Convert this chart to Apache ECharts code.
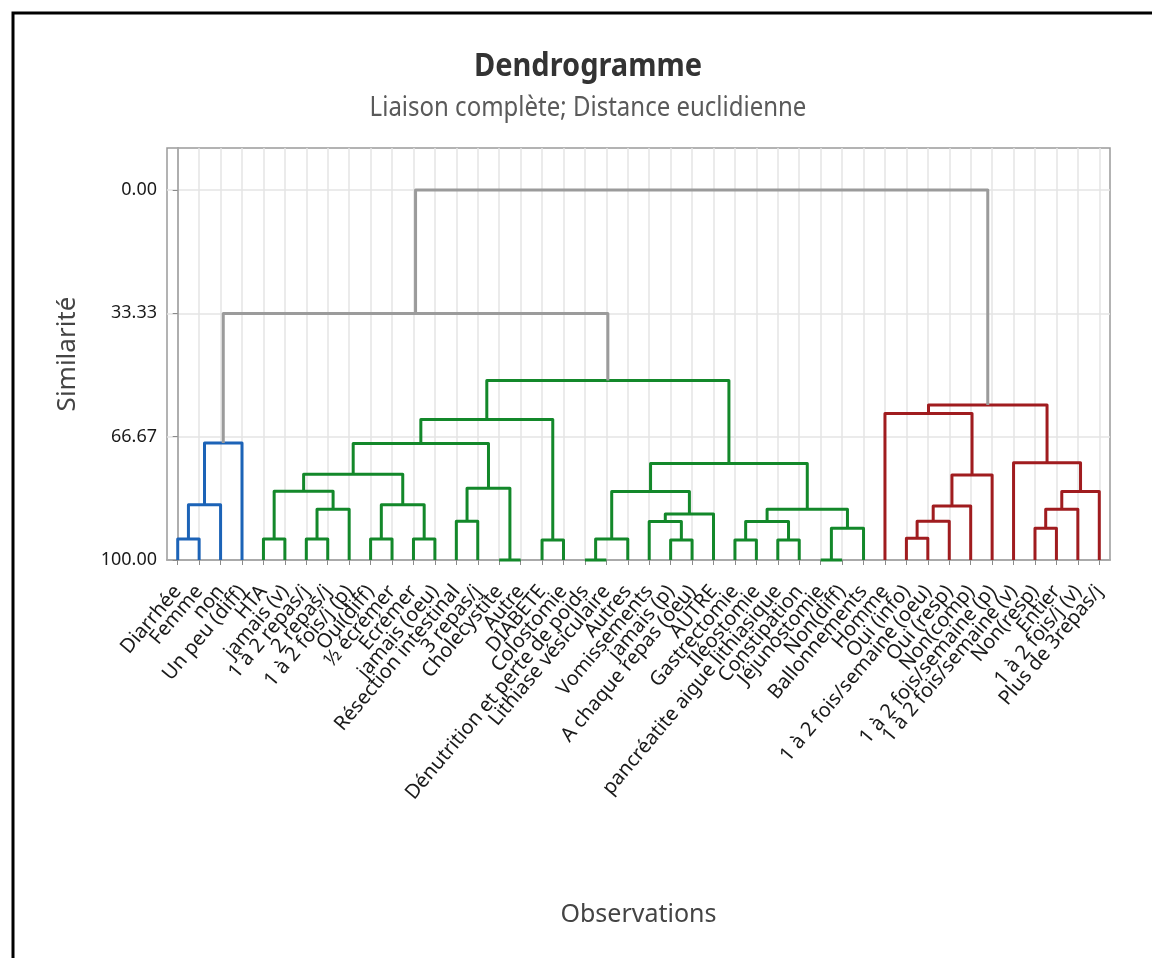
<!DOCTYPE html>
<html>
<head>
<meta charset="utf-8">
<script src="https://cdn.jsdelivr.net/npm/echarts@6/dist/echarts.min.js"></script>
<style>
html, body { margin: 0; padding: 0; background: #ffffff; }
#chart { width: 1152px; height: 958px; }
</style>
</head>
<body>
<div id="chart"></div>
<script>
// Observations, in dendrogram leaf order (left to right)
const leafLabels = [
  'Diarrhée', 'Femme', 'non', 'Un peu (diff)', 'HTA', 'jamais (v)',
  '1 à 2 repas/j', '2 repas/j', '1 à 2 fois/j (p)', 'Oui(diff)',
  '½ écrémer', 'Ecrémer', 'jamais (oeu)', 'Résection intestinal', '3 repas/j',
  'Cholecystite', 'Autre', 'DIABETE', 'Colostomie', 'Dénutrition et perte de poids',
  'Lithiase vésiculaire', 'Autres', 'Vomissements', 'jamais (p)', 'A chaque repas (oeu)',
  'AUTRE', 'Gastrectomie', 'Iléostomie', 'pancréatite aigue lithiasique', 'Constipation',
  'Jéjunostomie', 'Non(diff)', 'Ballonnements', 'Homme', 'Oui (info)',
  '1 à 2 fois/semaine (oeu)', 'Oui (resp)', 'Non(comp)', '1 à 2 fois/semaine (p)',
  '1 à 2 fois/semaine (v)', 'Non(resp)', 'Entier', '1 à 2 fois/j (v)', 'Plus de 3repas/j'
];

// Agglomeration steps: [child A, child B, similarity level].
// Children < 44 are leaves; child 44 + k is the cluster formed at step k.
const mergeA = [0, 44, 45, 4, 6, 48, 47, 9, 11, 51, 50, 13, 15, 55, 54, 17, 58,
  19, 61, 23, 22, 64, 62, 26, 28, 67, 30, 70, 69, 66, 60,
  34, 75, 76, 77, 33, 40, 80, 81, 39, 79, 46, 85];
const mergeB = [1, 2, 3, 5, 7, 8, 49, 10, 12, 52, 53, 14, 16, 56, 57, 18, 59,
  20, 21, 24, 63, 25, 65, 27, 29, 68, 31, 32, 71, 72, 73,
  35, 36, 37, 38, 78, 41, 42, 43, 82, 83, 74, 84];
const mergeSimilarity = [94.3, 85.1, 68.4, 94.3, 94.3, 86.3, 81.4, 94.3, 94.3, 85.1, 76.8,
  89.5, 100, 80.6, 68.5, 94.6, 62.0,
  100, 94.3, 94.6, 89.6, 87.6, 81.5, 94.6, 94.6, 89.6, 100, 91.4, 86.3, 73.9, 51.5,
  94.1, 89.5, 85.4, 77.0, 60.4, 91.4, 86.3, 81.5, 73.7, 58.1, 33.4, 0];

// Final clusters (consecutive leaves) and their colours
const clusterSizes = [4, 29, 11];
const clusterColors = ['#1c63b7', '#13882a', '#a01c1f'];
const linkGray = '#9b9b9b';
const colourCut = 45;

const simTicks = [0, 100 / 3, 200 / 3, 100];

// --- tree geometry in data space (x = leaf index, y = similarity) ---
const nLeaves = leafLabels.length;
const nodeX = leafLabels.map((_, i) => i);
const nodeY = leafLabels.map(() => 100);
const nodeCluster = [];
clusterSizes.forEach((size, c) => { for (let i = 0; i < size; i++) nodeCluster.push(c); });
const linkColor = [];
mergeA.forEach((a, k) => {
  const b = mergeB[k];
  nodeX.push((nodeX[a] + nodeX[b]) / 2);
  nodeY.push(mergeSimilarity[k]);
  const c = nodeCluster[a] === nodeCluster[b] ? nodeCluster[a] : -1;
  nodeCluster.push(c);
  linkColor.push(c >= 0 && mergeSimilarity[k] >= colourCut ? clusterColors[c] : linkGray);
});

const linkData = mergeA.map((a, k) => [nodeX[nLeaves + k], mergeSimilarity[k]]);

function renderLink(params, api) {
  const k = params.dataIndex;
  const a = mergeA[k], b = mergeB[k], s = mergeSimilarity[k];
  const pts = [
    [nodeX[a], nodeY[a]], [nodeX[a], s], [nodeX[b], s], [nodeX[b], nodeY[b]]
  ].map(p => api.coord(p));
  return {
    type: 'polyline',
    shape: { points: pts },
    style: { stroke: linkColor[k], lineWidth: 3, fill: null, lineJoin: 'round', lineCap: 'butt' }
  };
}

const leafIdx = leafLabels.map((_, i) => i);
const FONT = '"Noto Sans", "Open Sans", sans-serif';

// Leaf names are dense and overlap; they are split across two stacked x axes
// (even / odd leaves) so the axis never drops a label for overlapping.
const leafLabelStyle = {
  rotate: 50, margin: 28,
  fontSize: 20, color: '#1a1a1a', fontFamily: FONT,
  showMinLabel: true, showMaxLabel: true, hideOverlap: false,
  formatter: v => leafLabels[Math.round(v)]
};

const chart = echarts.init(document.getElementById('chart'), null, { renderer: 'canvas' });
chart.setOption({
  backgroundColor: '#ffffff',
  animation: false,
  textStyle: { fontFamily: FONT },
  graphic: [
    {
      type: 'rect', silent: true, z: 100,
      shape: { x: 13, y: 13, width: 1300, height: 1100 },
      style: { fill: null, stroke: '#000000', lineWidth: 3 }
    },
    {
      type: 'text', x: 588, y: 67, z: 100, scaleY: 1.12,
      style: { text: 'Dendrogramme', font: 'bold 29px ' + FONT, fill: '#333333', align: 'center', verticalAlign: 'middle' }
    },
    {
      type: 'text', x: 588, y: 108, z: 100, scaleY: 1.12,
      style: { text: 'Liaison complète; Distance euclidienne', font: '24px ' + FONT, fill: '#5a5a5a', align: 'center', verticalAlign: 'middle' }
    }
  ],
  grid: {
    left: 167, right: 42, top: 148, bottom: 398,
    show: true, borderColor: '#9a9a9a', borderWidth: 1.5, backgroundColor: '#ffffff'
  },
  xAxis: [
    {
      type: 'value',
      min: -0.5, max: nLeaves - 0.5,
      name: 'Observations',
      nameLocation: 'middle',
      nameGap: 342,
      nameTextStyle: { fontSize: 25, color: '#444444', fontFamily: FONT },
      axisLine: { show: true, onZero: false, lineStyle: { color: '#9a9a9a', width: 1.5 } },
      axisTick: { show: true, length: 5, customValues: leafIdx, lineStyle: { color: '#8a8a8a' } },
      axisLabel: Object.assign({ customValues: leafIdx.filter(i => i % 2 === 0) }, leafLabelStyle),
      splitLine: { show: true, lineStyle: { color: '#e4e4e4', width: 1.5 } }
    },
    {
      type: 'value',
      position: 'bottom',
      min: -0.5, max: nLeaves - 0.5,
      axisLine: { show: false, onZero: false },
      axisTick: { show: false, customValues: leafIdx.filter(i => i % 2 === 1) },
      axisLabel: Object.assign({ customValues: leafIdx.filter(i => i % 2 === 1) }, leafLabelStyle),
      splitLine: { show: false }
    }
  ],
  yAxis: {
    type: 'value',
    inverse: true,
    min: -11.35, max: 100,
    name: 'Similarité',
    nameLocation: 'middle',
    nameGap: 86,
    nameRotate: 90,
    nameTextStyle: { fontSize: 26, color: '#444444', fontFamily: FONT },
    axisLine: { show: true, lineStyle: { color: '#9a9a9a', width: 1.5 } },
    axisTick: { show: true, length: 5, customValues: simTicks, lineStyle: { color: '#8a8a8a' } },
    axisLabel: {
      customValues: simTicks,
      margin: 10, fontSize: 18, color: '#1a1a1a', fontFamily: FONT,
      formatter: v => v.toFixed(2)
    },
    splitLine: { show: true, lineStyle: { color: '#e4e4e4', width: 1.5 } }
  },
  series: [{
    type: 'custom',
    xAxisIndex: 0,
    renderItem: renderLink,
    data: linkData,
    clip: false,
    z: 5
  }]
});
</script>
</body>
</html>
